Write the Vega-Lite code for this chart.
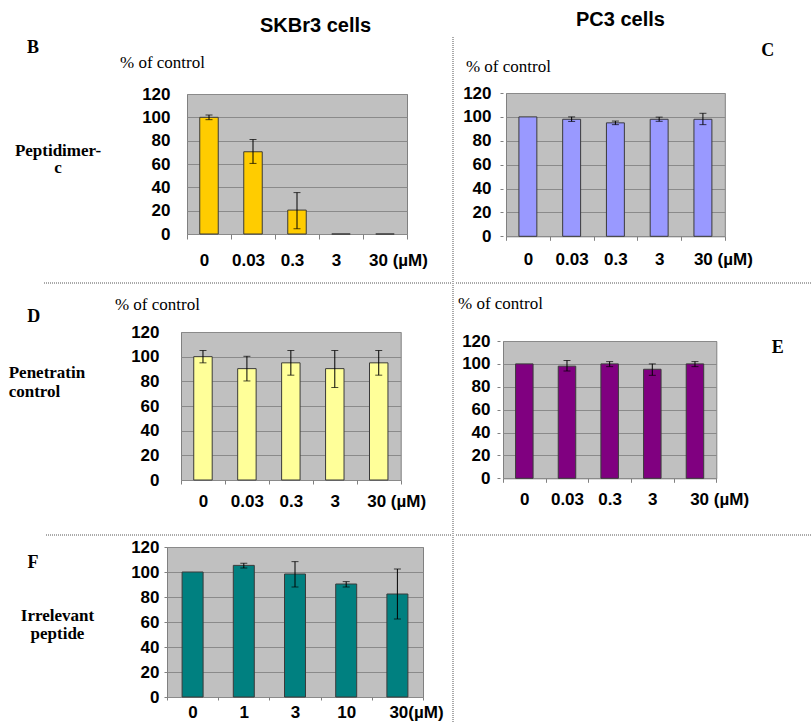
{
  "$schema": "https://vega.github.io/schema/vega-lite/v6.json",
  "background": "white",
  "padding": {"left": 0, "top": 10, "right": 0, "bottom": 0},
  "config": {"view": {"stroke": null}, "concat": {"spacing": 0}},
  "datasets": {
    "B": [
      {"c": "0", "v": 100, "lo": 98, "hi": 102},
      {"c": "0.03", "v": 70.5, "lo": 60.5, "hi": 81},
      {"c": "0.3", "v": 20.5, "lo": 4.5, "hi": 35.5},
      {"c": "3", "v": 0, "lo": null, "hi": null},
      {"c": "30", "v": 0, "lo": null, "hi": null}
    ],
    "C": [
      {"c": "0", "v": 100, "lo": null, "hi": null},
      {"c": "0.03", "v": 98, "lo": 96.2, "hi": 100},
      {"c": "0.3", "v": 95, "lo": 93.5, "hi": 96.5},
      {"c": "3", "v": 98, "lo": 96.3, "hi": 99.8},
      {"c": "30", "v": 98, "lo": 93.5, "hi": 103}
    ],
    "D": [
      {"c": "0", "v": 100, "lo": 95, "hi": 105},
      {"c": "0.03", "v": 90.3, "lo": 80.3, "hi": 100.3},
      {"c": "0.3", "v": 95, "lo": 85, "hi": 105},
      {"c": "3", "v": 90.3, "lo": 75, "hi": 105},
      {"c": "30", "v": 95, "lo": 85, "hi": 105}
    ],
    "E": [
      {"c": "0", "v": 100, "lo": null, "hi": null},
      {"c": "0.03", "v": 98, "lo": 93.8, "hi": 103},
      {"c": "0.3", "v": 100, "lo": 97.6, "hi": 102},
      {"c": "3", "v": 95.3, "lo": 90, "hi": 100},
      {"c": "30", "v": 100, "lo": 97.6, "hi": 102}
    ],
    "F": [
      {"c": "0", "v": 100, "lo": null, "hi": null},
      {"c": "1", "v": 105.3, "lo": 103.2, "hi": 107},
      {"c": "3", "v": 98.4, "lo": 88, "hi": 108.3},
      {"c": "10", "v": 90.4, "lo": 88, "hi": 92.3},
      {"c": "30", "v": 82.4, "lo": 62.4, "hi": 102.4}
    ]
  },
  "spacing": 0,
  "hconcat": [
    {
      "spacing": 0,
      "vconcat": [
        {"width": 451, "height": 1, "title": {"text": "SKBr3 cells", "anchor": "start", "frame": "group", "dx": 260, "offset": -15, "baseline": "alphabetic", "font": "Liberation Sans", "fontSize": 20, "fontWeight": "bold", "color": "#000"}, "data": {"values": []}, "mark": {"type": "point", "opacity": 0}, "encoding": {}},
        {"spacing": 0, "hconcat": [
          {"width": 13, "height": 188, "data": {"values": []}, "mark": {"type": "point", "opacity": 0}, "encoding": {}},
          {
            "width": 220, "height": 140,
            "view": {"fill": "#c0c0c0", "stroke": "#808080"},
            "data": {"name": "B"},
            "resolve": {"axis": {"x": "independent", "y": "independent"}},
            "layer": [
              {"mark": {"type": "bar", "width": {"band": 0.42}, "fill": "#FFCC00", "stroke": "#3a3a3a", "strokeWidth": 1},
               "encoding": {
                 "x": {"field": "c", "type": "ordinal", "sort": null, "scale": {"paddingInner": 0, "paddingOuter": 0},
                   "axis": {"orient": "bottom", "title": null, "domain": false, "ticks": true, "tickSize": 5, "tickColor": "#808080", "tickBand": "extent", "labelAngle": 0, "labelPadding": 13, "labelFont": "Liberation Sans", "labelFontWeight": "bold", "labelFontSize": 17, "labelColor": "#000", "labelOverlap": false, "labelBound": false,
                     "labelExpr": "datum.value === '30' ? '30 (µM)' : datum.label",
                     "labelAlign": {"condition": {"test": "datum.value === '30'", "value": "left"}, "value": "center"},
                     "labelOffset": {"condition": {"test": "datum.value === '30'", "value": -16.5}, "value": -5}}},
                 "y": {"field": "v", "type": "quantitative", "scale": {"domain": [0, 120], "nice": false},
                   "axis": {"orient": "left", "values": [0, 20, 40, 60, 80, 100, 120], "grid": true, "gridColor": "#8a8a8a", "domain": false, "ticks": false, "tickSize": 0, "labelPadding": 17, "labelFont": "Liberation Sans", "labelFontWeight": "bold", "labelFontSize": 17, "labelColor": "#000", "labelFlush": false, "labelOverlap": false,
                     "title": ["Peptidimer-", "c"], "titleAngle": 0, "titleAlign": "center", "titleBaseline": "top", "titleX": -129.5, "titleY": 48.3, "titleLineHeight": 17.5, "titleFont": "Liberation Serif", "titleFontWeight": "bold", "titleFontSize": 17, "titleColor": "#000"}}
               }},
              {"mark": {"type": "rule", "color": "#000", "strokeWidth": 1},
               "encoding": {
                 "x": {"field": "c", "type": "ordinal", "sort": null,
                   "axis": {"orient": "top", "title": "% of control", "labels": false, "ticks": false, "domain": false, "grid": false, "titleX": -67.5, "titleY": -39.7, "titleAlign": "left", "titleBaseline": "top", "titleAngle": 0, "titleFont": "Liberation Serif", "titleFontWeight": "normal", "titleFontSize": 17, "titleColor": "#000"}},
                 "y": {"field": "lo", "type": "quantitative",
                   "axis": {"orient": "right", "title": "B", "labels": false, "ticks": false, "domain": false, "grid": false, "titleX": -380.5, "titleY": -55.5, "titleAlign": "left", "titleBaseline": "top", "titleAngle": 0, "titleFont": "Liberation Serif", "titleFontWeight": "bold", "titleFontSize": 18, "titleColor": "#000"}},
                 "y2": {"field": "hi"}
               }},
              {"mark": {"type": "tick", "orient": "horizontal", "size": 7, "thickness": 1, "color": "#000"},
               "encoding": {"x": {"field": "c", "type": "ordinal", "sort": null, "axis": null}, "y": {"field": "lo", "type": "quantitative", "axis": null}}},
              {"mark": {"type": "tick", "orient": "horizontal", "size": 7, "thickness": 1, "color": "#000"},
               "encoding": {"x": {"field": "c", "type": "ordinal", "sort": null, "axis": null}, "y": {"field": "hi", "type": "quantitative", "axis": null}}}
            ]
          }
        ]},
        {"spacing": 0, "hconcat": [
          {"width": 42, "height": 12, "data": {"values": []}, "mark": {"type": "point", "opacity": 0}, "encoding": {}},
          {"width": 408, "height": 12, "data": {"values": [{}]}, "mark": {"type": "rule", "strokeDash": [1, 1], "color": "#555", "strokeWidth": 1}, "encoding": {"y": {"datum": 1, "type": "quantitative", "scale": {"domain": [0, 1]}, "axis": null}}}
        ]},
        {"spacing": 0, "hconcat": [
          {"width": 7, "height": 202, "data": {"values": []}, "mark": {"type": "point", "opacity": 0}, "encoding": {}},
          {
            "width": 219.7, "height": 148,
            "view": {"fill": "#c0c0c0", "stroke": "#808080"},
            "data": {"name": "D"},
            "resolve": {"axis": {"x": "independent", "y": "independent"}},
            "layer": [
              {"mark": {"type": "bar", "width": {"band": 0.42}, "fill": "#FFFF99", "stroke": "#3a3a3a", "strokeWidth": 1},
               "encoding": {
                 "x": {"field": "c", "type": "ordinal", "sort": null, "scale": {"paddingInner": 0, "paddingOuter": 0},
                   "axis": {"orient": "bottom", "title": null, "domain": false, "ticks": true, "tickSize": 4, "tickColor": "#808080", "tickBand": "extent", "labelAngle": 0, "labelPadding": 9, "labelFont": "Liberation Sans", "labelFontWeight": "bold", "labelFontSize": 17, "labelColor": "#000", "labelOverlap": false, "labelBound": false,
                     "labelExpr": "datum.value === '30' ? '30 (µM)' : datum.label",
                     "labelAlign": {"condition": {"test": "datum.value === '30'", "value": "left"}, "value": "center"},
                     "labelOffset": {"condition": {"test": "datum.value === '30'", "value": -12}, "value": 0}}},
                 "y": {"field": "v", "type": "quantitative", "scale": {"domain": [0, 120], "nice": false},
                   "axis": {"orient": "left", "values": [0, 20, 40, 60, 80, 100, 120], "grid": true, "gridColor": "#8a8a8a", "domain": false, "ticks": false, "tickSize": 0, "labelPadding": 22, "labelFont": "Liberation Sans", "labelFontWeight": "bold", "labelFontSize": 17, "labelColor": "#000", "labelFlush": false, "labelOverlap": false,
                     "title": ["Penetratin", "control"], "titleAngle": 0, "titleAlign": "left", "titleBaseline": "top", "titleX": -172.8, "titleY": 32.6, "titleLineHeight": 19, "titleFont": "Liberation Serif", "titleFontWeight": "bold", "titleFontSize": 17, "titleColor": "#000"}}
               }},
              {"mark": {"type": "rule", "color": "#000", "strokeWidth": 1},
               "encoding": {
                 "x": {"field": "c", "type": "ordinal", "sort": null,
                   "axis": {"orient": "top", "title": "% of control", "labels": false, "ticks": false, "domain": false, "grid": false, "titleX": -66.6, "titleY": -35.4, "titleAlign": "left", "titleBaseline": "top", "titleAngle": 0, "titleFont": "Liberation Serif", "titleFontWeight": "normal", "titleFontSize": 17, "titleColor": "#000"}},
                 "y": {"field": "lo", "type": "quantitative",
                   "axis": {"orient": "right", "title": "D", "labels": false, "ticks": false, "domain": false, "grid": false, "titleX": -374, "titleY": -24.2, "titleAlign": "left", "titleBaseline": "top", "titleAngle": 0, "titleFont": "Liberation Serif", "titleFontWeight": "bold", "titleFontSize": 18, "titleColor": "#000"}},
                 "y2": {"field": "hi"}
               }},
              {"mark": {"type": "tick", "orient": "horizontal", "size": 7, "thickness": 1, "color": "#000"},
               "encoding": {"x": {"field": "c", "type": "ordinal", "sort": null, "axis": null}, "y": {"field": "lo", "type": "quantitative", "axis": null}}},
              {"mark": {"type": "tick", "orient": "horizontal", "size": 7, "thickness": 1, "color": "#000"},
               "encoding": {"x": {"field": "c", "type": "ordinal", "sort": null, "axis": null}, "y": {"field": "hi", "type": "quantitative", "axis": null}}}
            ]
          }
        ]},
        {"spacing": 0, "hconcat": [
          {"width": 45, "height": 2, "data": {"values": []}, "mark": {"type": "point", "opacity": 0}, "encoding": {}},
          {"width": 405, "height": 2, "data": {"values": [{}]}, "mark": {"type": "rule", "strokeDash": [1, 1], "color": "#555", "strokeWidth": 1}, "encoding": {"y": {"datum": 1, "type": "quantitative", "scale": {"domain": [0, 1]}, "axis": null}}}
        ]},
        {"spacing": 0, "hconcat": [
          {"width": 19, "height": 150, "data": {"values": []}, "mark": {"type": "point", "opacity": 0}, "encoding": {}},
          {
            "width": 256, "height": 150,
            "view": {"fill": "#c0c0c0", "stroke": "#808080"},
            "data": {"name": "F"},
            "resolve": {"axis": {"x": "independent", "y": "independent"}},
            "layer": [
              {"mark": {"type": "bar", "width": {"band": 0.41}, "fill": "#008080", "stroke": "#3a3a3a", "strokeWidth": 1},
               "encoding": {
                 "x": {"field": "c", "type": "ordinal", "sort": null, "scale": {"paddingInner": 0, "paddingOuter": 0},
                   "axis": {"orient": "bottom", "title": null, "domain": false, "ticks": true, "tickSize": 3, "tickColor": "#808080", "tickBand": "extent", "labelAngle": 0, "labelPadding": 4, "labelFont": "Liberation Sans", "labelFontWeight": "bold", "labelFontSize": 17, "labelColor": "#000", "labelOverlap": false, "labelBound": false,
                     "labelExpr": "datum.value === '30' ? '30(µM)' : datum.label",
                     "labelAlign": {"condition": {"test": "datum.value === '30'", "value": "left"}, "value": "center"},
                     "labelOffset": {"condition": {"test": "datum.value === '30'", "value": -8.5}, "value": 0}}},
                 "y": {"field": "v", "type": "quantitative", "scale": {"domain": [0, 120], "nice": false},
                   "axis": {"orient": "left", "values": [0, 20, 40, 60, 80, 100, 120], "grid": true, "gridColor": "#8a8a8a", "domain": false, "ticks": true, "tickSize": 3, "tickColor": "#808080", "labelPadding": 5, "labelFont": "Liberation Sans", "labelFontWeight": "bold", "labelFontSize": 17, "labelColor": "#000", "labelFlush": false, "labelOverlap": false,
                     "title": ["Irrelevant", "peptide"], "titleAngle": 0, "titleAlign": "center", "titleBaseline": "top", "titleX": -110, "titleY": 60.6, "titleLineHeight": 18, "titleFont": "Liberation Serif", "titleFontWeight": "bold", "titleFontSize": 17, "titleColor": "#000"}}
               }},
              {"mark": {"type": "rule", "color": "#000", "strokeWidth": 1},
               "encoding": {
                 "x": {"field": "c", "type": "ordinal", "sort": null, "axis": null},
                 "y": {"field": "lo", "type": "quantitative",
                   "axis": {"orient": "right", "title": "F", "labels": false, "ticks": false, "domain": false, "grid": false, "titleX": -396, "titleY": 6.8, "titleAlign": "left", "titleBaseline": "top", "titleAngle": 0, "titleFont": "Liberation Serif", "titleFontWeight": "bold", "titleFontSize": 18, "titleColor": "#000"}},
                 "y2": {"field": "hi"}
               }},
              {"mark": {"type": "tick", "orient": "horizontal", "size": 7, "thickness": 1, "color": "#000"},
               "encoding": {"x": {"field": "c", "type": "ordinal", "sort": null, "axis": null}, "y": {"field": "lo", "type": "quantitative", "axis": null}}},
              {"mark": {"type": "tick", "orient": "horizontal", "size": 7, "thickness": 1, "color": "#000"},
               "encoding": {"x": {"field": "c", "type": "ordinal", "sort": null, "axis": null}, "y": {"field": "hi", "type": "quantitative", "axis": null}}}
            ]
          }
        ]}
      ]
    },
    {"width": 2, "height": 685, "data": {"values": [{}]}, "mark": {"type": "rule", "strokeDash": [1, 1], "color": "#555", "strokeWidth": 1}, "encoding": {"x": {"datum": 1, "type": "quantitative", "scale": {"domain": [0, 2]}, "axis": null}}},
    {
      "spacing": 0,
      "vconcat": [
        {"width": 358, "height": 4, "title": {"text": "PC3 cells", "anchor": "start", "frame": "group", "dx": 121, "offset": -9, "baseline": "alphabetic", "font": "Liberation Sans", "fontSize": 20, "fontWeight": "bold", "color": "#000"}, "data": {"values": []}, "mark": {"type": "point", "opacity": 0}, "encoding": {}},
        {"spacing": 0, "hconcat": [
          {"width": 7, "height": 189, "data": {"values": []}, "mark": {"type": "point", "opacity": 0}, "encoding": {}},
          {
            "width": 218.8, "height": 143.3,
            "view": {"fill": "#c0c0c0", "stroke": "#808080"},
            "data": {"name": "C"},
            "resolve": {"axis": {"x": "independent", "y": "independent"}},
            "layer": [
              {"mark": {"type": "bar", "width": {"band": 0.41}, "fill": "#9999FF", "stroke": "#3a3a3a", "strokeWidth": 1},
               "encoding": {
                 "x": {"field": "c", "type": "ordinal", "sort": null, "scale": {"paddingInner": 0, "paddingOuter": 0},
                   "axis": {"orient": "bottom", "title": null, "domain": false, "ticks": true, "tickSize": 4, "tickColor": "#808080", "tickBand": "extent", "labelAngle": 0, "labelPadding": 11, "labelFont": "Liberation Sans", "labelFontWeight": "bold", "labelFontSize": 17, "labelColor": "#000", "labelOverlap": false, "labelBound": false,
                     "labelExpr": "datum.value === '30' ? '30 (µM)' : datum.label",
                     "labelAlign": {"condition": {"test": "datum.value === '30'", "value": "left"}, "value": "center"},
                     "labelOffset": {"condition": {"test": "datum.value === '30'", "value": -9.5}, "value": 0}}},
                 "y": {"field": "v", "type": "quantitative", "scale": {"domain": [0, 120], "nice": false},
                   "axis": {"orient": "left", "offset": 3, "values": [0, 20, 40, 60, 80, 100, 120], "grid": true, "gridColor": "#8a8a8a", "domain": false, "ticks": true, "tickSize": 3, "tickColor": "#808080", "labelPadding": 9, "labelFont": "Liberation Sans", "labelFontWeight": "bold", "labelFontSize": 17, "labelColor": "#000", "labelFlush": false, "labelOverlap": false, "title": null}}
               }},
              {"mark": {"type": "rule", "color": "#000", "strokeWidth": 1},
               "encoding": {
                 "x": {"field": "c", "type": "ordinal", "sort": null,
                   "axis": {"orient": "top", "title": "% of control", "labels": false, "ticks": false, "domain": false, "grid": false, "titleX": -40.6, "titleY": -34.7, "titleAlign": "left", "titleBaseline": "top", "titleAngle": 0, "titleFont": "Liberation Serif", "titleFontWeight": "normal", "titleFontSize": 17, "titleColor": "#000"}},
                 "y": {"field": "lo", "type": "quantitative",
                   "axis": {"orient": "right", "title": "C", "labels": false, "ticks": false, "domain": false, "grid": false, "titleX": 36, "titleY": -51.5, "titleAlign": "left", "titleBaseline": "top", "titleAngle": 0, "titleFont": "Liberation Serif", "titleFontWeight": "bold", "titleFontSize": 18, "titleColor": "#000"}},
                 "y2": {"field": "hi"}
               }},
              {"mark": {"type": "tick", "orient": "horizontal", "size": 7, "thickness": 1, "color": "#000"},
               "encoding": {"x": {"field": "c", "type": "ordinal", "sort": null, "axis": null}, "y": {"field": "lo", "type": "quantitative", "axis": null}}},
              {"mark": {"type": "tick", "orient": "horizontal", "size": 7, "thickness": 1, "color": "#000"},
               "encoding": {"x": {"field": "c", "type": "ordinal", "sort": null, "axis": null}, "y": {"field": "hi", "type": "quantitative", "axis": null}}}
            ]
          }
        ]},
        {"width": 358, "height": 11, "data": {"values": [{}]}, "mark": {"type": "rule", "strokeDash": [1, 1], "color": "#555", "strokeWidth": 1}, "encoding": {"y": {"datum": 1, "type": "quantitative", "scale": {"domain": [0, 1]}, "axis": null}}},
        {"spacing": 0, "hconcat": [
          {"width": 2, "height": 193, "data": {"values": []}, "mark": {"type": "point", "opacity": 0}, "encoding": {}},
          {
            "width": 213.3, "height": 137.3,
            "view": {"fill": "#c0c0c0", "stroke": "#808080"},
            "data": {"name": "E"},
            "resolve": {"axis": {"x": "independent", "y": "independent"}},
            "layer": [
              {"mark": {"type": "bar", "width": {"band": 0.41}, "fill": "#800080", "stroke": "#3a3a3a", "strokeWidth": 1},
               "encoding": {
                 "x": {"field": "c", "type": "ordinal", "sort": null, "scale": {"paddingInner": 0, "paddingOuter": 0},
                   "axis": {"orient": "bottom", "title": null, "domain": false, "ticks": true, "tickSize": 4, "tickColor": "#808080", "tickBand": "extent", "labelAngle": 0, "labelPadding": 9, "labelFont": "Liberation Sans", "labelFontWeight": "bold", "labelFontSize": 17, "labelColor": "#000", "labelOverlap": false, "labelBound": false,
                     "labelExpr": "datum.value === '30' ? '30 (µM)' : datum.label",
                     "labelAlign": {"condition": {"test": "datum.value === '30'", "value": "left"}, "value": "center"},
                     "labelOffset": {"condition": {"test": "datum.value === '30'", "value": -5.3}, "value": 0}}},
                 "y": {"field": "v", "type": "quantitative", "scale": {"domain": [0, 120], "nice": false},
                   "axis": {"orient": "left", "offset": 3, "values": [0, 20, 40, 60, 80, 100, 120], "grid": true, "gridColor": "#8a8a8a", "domain": false, "ticks": true, "tickSize": 3, "tickColor": "#808080", "labelPadding": 7, "labelFont": "Liberation Sans", "labelFontWeight": "bold", "labelFontSize": 17, "labelColor": "#000", "labelFlush": false, "labelOverlap": false, "title": null}}
               }},
              {"mark": {"type": "rule", "color": "#000", "strokeWidth": 1},
               "encoding": {
                 "x": {"field": "c", "type": "ordinal", "sort": null,
                   "axis": {"orient": "top", "title": "% of control", "labels": false, "ticks": false, "domain": false, "grid": false, "titleX": -45.5, "titleY": -45.4, "titleAlign": "left", "titleBaseline": "top", "titleAngle": 0, "titleFont": "Liberation Serif", "titleFontWeight": "normal", "titleFontSize": 17, "titleColor": "#000"}},
                 "y": {"field": "lo", "type": "quantitative",
                   "axis": {"orient": "right", "title": "E", "labels": false, "ticks": false, "domain": false, "grid": false, "titleX": 55, "titleY": -2.2, "titleAlign": "left", "titleBaseline": "top", "titleAngle": 0, "titleFont": "Liberation Serif", "titleFontWeight": "bold", "titleFontSize": 18, "titleColor": "#000"}},
                 "y2": {"field": "hi"}
               }},
              {"mark": {"type": "tick", "orient": "horizontal", "size": 7, "thickness": 1, "color": "#000"},
               "encoding": {"x": {"field": "c", "type": "ordinal", "sort": null, "axis": null}, "y": {"field": "lo", "type": "quantitative", "axis": null}}},
              {"mark": {"type": "tick", "orient": "horizontal", "size": 7, "thickness": 1, "color": "#000"},
               "encoding": {"x": {"field": "c", "type": "ordinal", "sort": null, "axis": null}, "y": {"field": "hi", "type": "quantitative", "axis": null}}}
            ]
          }
        ]},
        {"width": 358, "height": 1, "data": {"values": [{}]}, "mark": {"type": "rule", "strokeDash": [1, 1], "color": "#555", "strokeWidth": 1}, "encoding": {"y": {"datum": 1, "type": "quantitative", "scale": {"domain": [0, 1]}, "axis": null}}}
      ]
    }
  ]
}
